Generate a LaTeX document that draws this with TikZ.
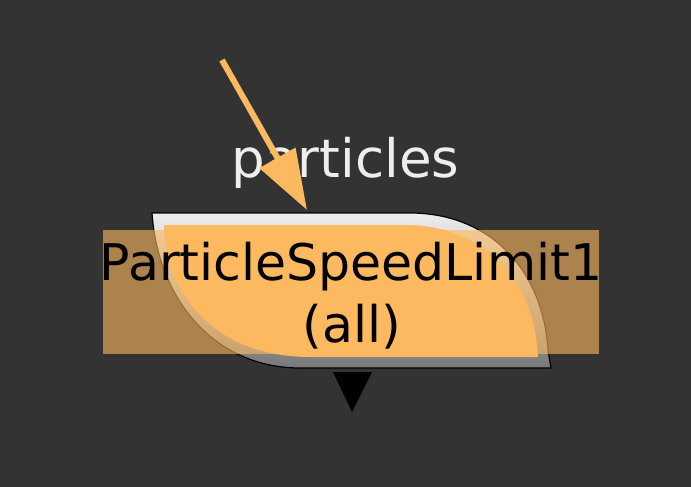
\documentclass[tikz,border=0pt]{standalone}
\usepackage{fontspec}
\setmainfont{DejaVu Sans}
\usetikzlibrary{arrows.meta}
\definecolor{bg}{RGB}{51,51,51}
\definecolor{nodeorange}{RGB}{253,185,95}
\definecolor{shinetop}{RGB}{238,238,238}
\definecolor{shinebot}{RGB}{120,120,120}
\definecolor{labelgray}{RGB}{238,238,238}
\tikzset{
  outershape/.style={top color=shinetop, bottom color=shinebot, draw=black, line width=1.2pt, line join=miter},
  innershape/.style={fill=nodeorange},
  labelbox/.style={fill=nodeorange, fill opacity=0.6, draw=none, inner sep=0pt,
    minimum width=496pt, minimum height=124pt},
  nametext/.style={text=black, inner sep=0pt, font=\fontsize{50.5}{60}\selectfont},
  inputlabel/.style={text=labelgray, inner sep=0pt, font=\fontsize{53}{60}\selectfont},
  wire/.style={draw=nodeorange, line width=6pt, -{Triangle[length=60pt,width=40pt]}},
  outport/.style={fill=black}
}
\begin{document}
\begin{tikzpicture}[x=1pt,y=-1pt]
  \fill[bg] (0,0) rectangle (691,487);
  \useasboundingbox (0,0) rectangle (691,487);
  % input label
  \node[inputlabel, anchor=base] (inlabel) at (345.5,177) {particles};
  % outer node body
  \path[outershape] (152,213) -- (410,213)
     .. controls (490,213) and (543,270) .. (548,350) -- (551,368) -- (300,368)
     .. controls (215,368) and (158,300) .. (152,213) -- cycle;
  % label backdrop
  \node[labelbox] (box) at (351,292) {};
  % inner orange
  \path[innershape] (164,225) -- (405,225)
     .. controls (480,225) and (530,275) .. (537,345) -- (538,357) -- (310,357)
     .. controls (220,357) and (166,300) .. (164,225) -- cycle;
  % texts
  \node[nametext, anchor=base] (name) at (351,280) {ParticleSpeedLimit1};
  \node[nametext, anchor=base] (sub) at (352,342) {(all)};
  % input connector
  \coordinate (src) at (222,60);
  \coordinate (inport) at (307,210);
  \draw[wire] (src) -- (inport);
  % output port
  \path[outport] (333,372) -- (372,372) -- (352,412) -- cycle;
\end{tikzpicture}
\end{document}
